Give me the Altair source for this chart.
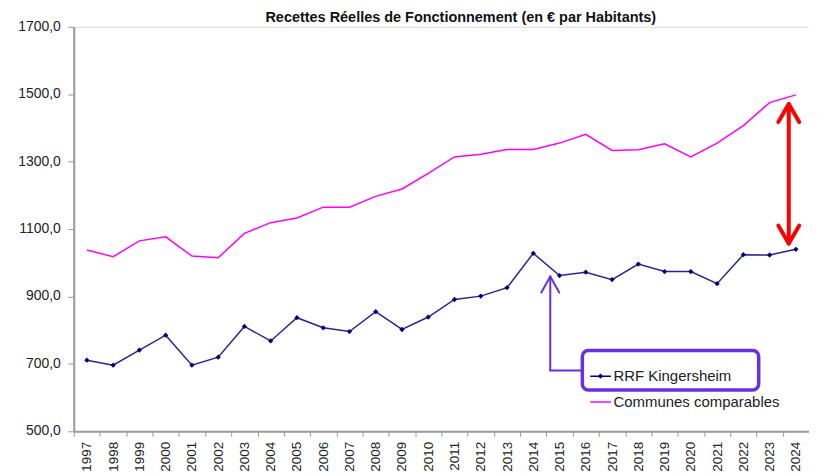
import altair as alt
import pandas as pd

years = [str(y) for y in range(1997, 2025)]
rrf = [711, 696, 741, 785, 696, 720, 811, 768, 837, 807, 796, 855, 802, 839,
       891, 901, 926, 1028, 962, 972, 950, 996, 974, 974, 938, 1024, 1023, 1040]
communes = [1038, 1018, 1065, 1077, 1020, 1015, 1087, 1119, 1133, 1165, 1165, 1197,
            1219, 1265, 1314, 1322, 1336, 1336, 1355, 1381, 1333, 1335, 1353, 1314,
            1355, 1407, 1475, 1498]
y_ticks = [500, 700, 900, 1100, 1300, 1500, 1700]
y_tick_labels = ["500,0", "700,0", "900,0", "1100,0", "1300,0", "1500,0", "1700,0"]
series_names = ["RRF Kingersheim", "Communes comparables"]
title_text = "Recettes Réelles de Fonctionnement (en € par Habitants)"

W, H = 738, 406
FONT = "Arial"
NAVY = "#000080"
PINK = "#ff00ff"
PURPLE = "#6a2fe0"
RED = "#ff0000"

df = pd.DataFrame({"year": years, "rrf": rrf, "communes": communes})
tick_df = pd.DataFrame({"v": y_ticks, "label": y_tick_labels})

xenc = alt.X("year:N", sort=years, title=None,
             scale=alt.Scale(type="band", paddingInner=0, paddingOuter=0),
             axis=alt.Axis(labelAngle=-90, labelAlign="right", labelBaseline="middle",
                           tickBand="extent", grid=False, labelFontSize=13.5,
                           labelFont=FONT, tickSize=5, labelPadding=5))
yscale = alt.Scale(domain=[500, 1700], nice=False, zero=False)
yaxis = alt.Axis(values=y_ticks, labels=False, grid=False, title=None, tickSize=6)

base = alt.Chart(df)
pink_line = base.mark_line(color=PINK, strokeWidth=1.5).encode(
    x=xenc, y=alt.Y("communes:Q", scale=yscale, axis=yaxis))
navy_line = base.mark_line(color=NAVY, strokeWidth=1.5, opacity=0.85).encode(
    x=xenc, y=alt.Y("rrf:Q", scale=yscale, axis=yaxis))
navy_pts = base.mark_point(shape="diamond", filled=True, color=NAVY, size=28, opacity=1).encode(
    x=xenc, y=alt.Y("rrf:Q", scale=yscale, axis=yaxis))

# y tick labels drawn through the y scale
ylabels = alt.Chart(tick_df).mark_text(align="right", baseline="middle", font=FONT,
                                       fontSize=14, color="#222").encode(
    y=alt.Y("v:Q", scale=yscale, axis=yaxis), x=alt.value(-13), text="label:N")

one = alt.Chart(pd.DataFrame({"k": [0]}))

def seg(x1, y1, x2, y2, color, width):
    return one.mark_rule(color=color, strokeWidth=width, strokeCap="round").encode(
        x=alt.value(x1), x2=alt.value(x2), y=alt.value(y1), y2=alt.value(y2))

# title as text annotation
title = one.mark_text(align="center", baseline="alphabetic", font=FONT, fontSize=14.5,
                      fontWeight="bold", color="#111").encode(
    x=alt.value(388.5), y=alt.value(-4.8), text=alt.value(title_text))

# red double arrow
rx, rt, rb = 717.7, 77.5, 217.5
red = [seg(rx, rt + 1, rx, rb - 1, RED, 4),
       seg(rx, rt, rx - 10.5, rt + 18, RED, 4), seg(rx, rt, rx + 10.5, rt + 18, RED, 4),
       seg(rx, rb, rx - 10.5, rb - 18, RED, 4), seg(rx, rb, rx + 10.5, rb - 18, RED, 4)]

# purple callout arrow
px, pt, pb, pr = 478.3, 250.7, 345.0, 511.0
purple = [seg(px, pt, px, pb, PURPLE, 2), seg(px, pb, pr, pb, PURPLE, 2),
          seg(px, pt, px - 9, pt + 16, PURPLE, 2), seg(px, pt, px + 9, pt + 16, PURPLE, 2)]

box = one.mark_rect(fill="transparent", stroke=PURPLE, strokeWidth=3.5, cornerRadius=6).encode(
    x=alt.value(510.5), x2=alt.value(687.5), y=alt.value(325), y2=alt.value(364.5))

# legend (manual)
leg = [
    seg(519, 350.7, 538.7, 350.7, NAVY, 1.5),
    one.mark_point(shape="diamond", filled=True, color=NAVY, size=28, opacity=1).encode(
        x=alt.value(528.7), y=alt.value(350.7)),
    one.mark_text(align="left", baseline="middle", font=FONT, fontSize=15, color="#222").encode(
        x=alt.value(541.7), y=alt.value(351), text=alt.value(series_names[0])),
    seg(519, 376.7, 538.7, 376.7, PINK, 1.5),
    one.mark_text(align="left", baseline="middle", font=FONT, fontSize=15, color="#222").encode(
        x=alt.value(541.7), y=alt.value(377), text=alt.value(series_names[1])),
]

chart = alt.layer(pink_line, navy_line, navy_pts, ylabels, *red, *purple, box, *leg, title).properties(
    width=W, height=H,
    autosize=alt.AutoSizeParams(type="none"),
    padding={"left": 66, "top": 18, "right": 0, "bottom": 42},
).configure_view(stroke="#aaa", strokeWidth=1.5).configure(background="white"
).configure_axis(labelFont=FONT, labelColor="#222", domainColor="#999", domainWidth=2,
                 tickColor="#999", grid=False
).configure_axisX(labelFontSize=13.5, tickSize=5, labelPadding=5)

chart.save("out.html", embed_options={"renderer": "svg", "actions": False})
